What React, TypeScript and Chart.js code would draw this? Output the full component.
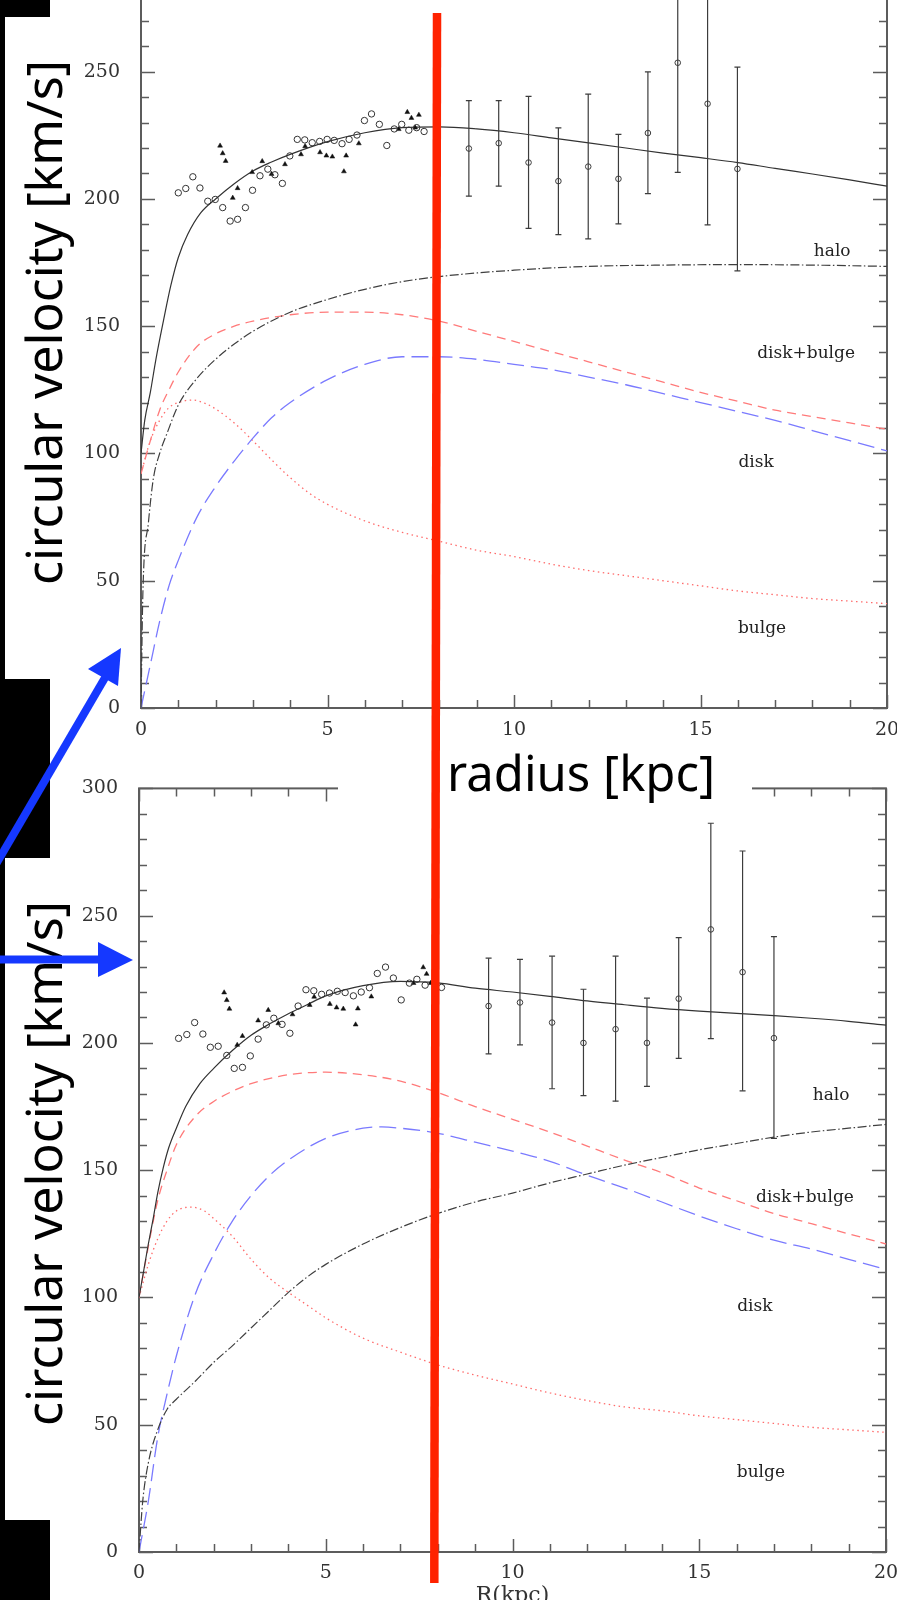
import React, { useEffect, useRef } from "react";
import { Chart, registerables } from "chart.js";

Chart.register(...registerables);
Chart.defaults.font.family = "'DejaVu Serif', serif";
Chart.defaults.font.size = 19;
Chart.defaults.color = "#333";

// ---------- Upper panel (A) model curves ----------
const A_TOTAL_R = [0, 0.1, 0.25, 0.4, 0.6, 0.8, 1, 1.25, 1.6, 2, 2.5, 3, 3.5, 4, 5, 6, 7, 8, 9, 10, 11, 12, 13, 14, 15, 16, 17, 18, 19, 20];
const A_TOTAL_V = [100, 113, 124, 137, 152, 166, 177, 186, 194.5, 200, 206, 211, 214.5, 217.5, 222.5, 226, 228, 228.3, 227.5, 226, 224, 222, 220, 218, 216.2, 214.3, 212, 209.8, 207.5, 205];

const A_HALO_R = [0, 0.05, 0.2, 0.33, 0.5, 0.7, 1, 1.5, 2, 2.5, 3, 4, 5, 6, 7, 8, 10, 12, 14, 16, 18, 20];
const A_HALO_V = [0, 45, 73, 90, 100, 108, 119, 129.5, 137, 143, 148, 155.5, 160.5, 164.5, 167.5, 169.5, 172, 173.5, 174, 174.2, 174, 173.5];

const A_DB_R = [0, 0.25, 0.5, 0.75, 1, 1.5, 2, 2.5, 3, 4, 5, 6, 7, 8, 9, 10, 11, 12, 13, 14, 15, 16, 17, 18, 19, 20];
const A_DB_V = [92, 105, 117, 125, 132, 142, 147, 150, 152, 154.5, 155.5, 155.5, 154.5, 152, 148, 144, 140, 136, 132, 128, 124, 120.5, 117, 114.5, 112, 109.5];

const A_DISK_R = [0, 0.25, 0.5, 0.75, 1, 1.5, 2, 2.5, 3, 3.5, 4, 5, 6, 7, 8, 9, 10, 11, 12, 13, 14, 15, 16, 17, 18, 19, 20];
const A_DISK_V = [0, 17, 34, 48, 58, 75, 87, 97, 106, 114, 120, 129, 135, 138, 138, 137, 135, 133, 130, 127, 123.5, 120, 116.5, 113, 109, 105, 101];

const A_BULGE_R = [0, 0.25, 0.5, 0.75, 1, 1.37, 1.75, 2, 2.5, 3, 3.5, 4, 4.5, 5, 6, 7, 8, 9, 10, 11, 12, 13, 14, 15, 16, 17, 18, 19, 20];
const A_BULGE_V = [92, 105, 113, 118, 120, 121, 119.5, 117.5, 112, 105, 97.5, 90.5, 84.5, 80, 73.5, 69, 65.5, 62, 59.5, 56.5, 54, 52, 50, 48, 46, 44.5, 43, 42, 41];

// ---------- Upper panel (A) observations ----------
const A_CIRC_R = [1.0, 1.2, 1.39, 1.58, 1.79, 1.99, 2.19, 2.39, 2.59, 2.8, 2.99, 3.19, 3.4, 3.59, 3.79, 3.99, 4.19, 4.39, 4.59, 4.79, 4.99, 5.18, 5.39, 5.58, 5.79, 5.99, 6.18, 6.39, 6.59, 6.79, 6.99, 7.18, 7.39, 7.59];
const A_CIRC_V = [202.4, 204.1, 208.7, 204.3, 199.1, 199.8, 196.6, 191.3, 192, 196.6, 203.4, 209.1, 211.7, 209.5, 206.1, 216.9, 223.4, 223.2, 222.1, 222.6, 223.4, 223, 221.7, 223.4, 225.1, 230.8, 233.4, 229.3, 221, 227.5, 229.3, 227, 228, 226.5];

const A_TRI_R = [2.12, 2.19, 2.27, 2.46, 2.59, 2.98, 3.25, 3.5, 3.86, 4.29, 4.4, 4.8, 4.97, 5.13, 5.44, 5.5, 5.84, 6.91, 7.14, 7.25, 7.45, 7.35];
const A_TRI_V = [220.9, 217.9, 214.9, 200.4, 204.2, 210.5, 214.8, 209.8, 213.6, 217.5, 220.7, 218.3, 217, 216.6, 210.8, 217, 221.8, 227.4, 234.1, 231.8, 233, 228];

const A_ERR_R = [8.79, 9.59, 10.39, 11.19, 11.99, 12.8, 13.59, 14.39, 15.19, 15.99];
const A_ERR_V = [219.8, 221.9, 214.3, 207, 212.7, 207.9, 225.9, 253.5, 237.4, 211.8];
const A_ERR_HI = [238.6, 238.6, 240.3, 227.9, 241.2, 225.4, 249.9, 296, 285, 251.8];
const A_ERR_LO = [201.1, 205, 188.4, 186, 184.3, 190.2, 202.1, 210.4, 189.8, 171.7];

// ---------- Lower panel (B) model curves ----------
const B_TOTAL_R = [0, 0.12, 0.25, 0.38, 0.5, 0.65, 0.8, 1, 1.25, 1.63, 2, 2.5, 3, 3.5, 4, 4.5, 5, 6, 7, 8, 9, 10, 11, 12, 13, 14, 15, 16, 17, 18, 19, 20];
const B_TOTAL_V = [100, 110, 121, 131, 141, 151, 159, 166.5, 175, 184, 190, 197, 203, 207.5, 211.5, 215, 218.5, 222.5, 224.2, 223.6, 221.5, 220, 218.3, 216.5, 215, 213.6, 212.5, 211.6, 210.7, 209.7, 208.5, 207];

const B_HALO_R = [0, 0.1, 0.25, 0.5, 0.75, 1, 1.5, 2, 2.5, 3, 3.5, 4, 4.5, 5, 6, 7, 8, 9, 10, 11, 12, 13, 14, 15, 16, 17, 18, 19, 20];
const B_HALO_V = [0, 20, 35, 48, 56, 60, 67, 74.5, 81, 88, 95, 102, 108, 113, 121, 127.5, 133, 137.5, 141, 145, 148.5, 152, 155, 158, 160.5, 163, 165, 166.5, 168];

const B_DB_R = [0, 0.25, 0.5, 0.75, 1, 1.5, 2, 2.5, 3, 4, 5, 6, 7, 8, 9, 10, 11, 12, 13, 14, 15, 16, 17, 18, 19, 20];
const B_DB_V = [100, 120, 138, 150, 160, 171, 177, 181, 184, 187.5, 188.5, 187.5, 185, 180.5, 175, 170, 165, 159.5, 154, 149, 143, 138, 133, 129, 125, 121];

const B_DISK_R = [0, 0.25, 0.5, 0.75, 1, 1.5, 2, 2.5, 3, 3.5, 4, 5, 6, 6.5, 7, 8, 9, 10, 11, 12, 13, 14, 15, 16, 17, 18, 19, 20];
const B_DISK_V = [0, 20, 45, 62, 77, 101, 117, 130, 140, 148, 154, 162.5, 166.5, 167, 166.5, 164.5, 161, 157.5, 153.5, 148, 143, 137.5, 132, 127, 122.5, 119, 115, 111];

const B_BULGE_R = [0, 0.25, 0.5, 0.75, 1, 1.4, 1.75, 2, 2.5, 3, 3.5, 4, 4.5, 5, 6, 7, 8, 9, 10, 11, 12, 13, 14, 15, 16, 17, 18, 19, 20];
const B_BULGE_V = [100, 113, 123, 130, 134, 135.5, 134, 131, 124, 115, 107.5, 102, 97, 92, 84, 78.5, 73.5, 69.5, 66, 62.5, 59.5, 57, 55.5, 53.5, 52, 50.5, 49, 48, 47];

// ---------- Lower panel (B) observations ----------
const B_CIRC_R = [1.06, 1.28, 1.49, 1.71, 1.91, 2.12, 2.35, 2.55, 2.77, 2.98, 3.19, 3.41, 3.61, 3.83, 4.04, 4.26, 4.47, 4.68, 4.89, 5.1, 5.31, 5.52, 5.74, 5.95, 6.17, 6.38, 6.6, 6.81, 7.02, 7.24, 7.44, 7.66, 8.1];
const B_CIRC_V = [201.8, 203.3, 208, 203.5, 198.3, 198.7, 195.1, 190, 190.4, 194.9, 201.5, 207.1, 209.7, 207.3, 203.8, 214.5, 220.9, 220.5, 219.1, 219.6, 220.3, 219.8, 218.5, 220, 221.7, 227.3, 229.8, 225.5, 216.9, 223.5, 225, 222.7, 221.8];

const B_TRI_R = [2.28, 2.35, 2.42, 2.63, 2.77, 3.19, 3.46, 3.73, 4.11, 4.57, 4.69, 5.11, 5.29, 5.47, 5.8, 5.86, 6.22, 7.35, 7.61, 7.7, 7.81];
const B_TRI_V = [219.8, 216.8, 213.4, 199.2, 202.7, 208.8, 212.9, 207.7, 211.2, 214.9, 218.1, 215.3, 213.9, 213.4, 207.2, 213.5, 218.2, 223.5, 229.7, 227.1, 223.5];

const B_ERR_R = [9.36, 10.2, 11.06, 11.9, 12.76, 13.6, 14.45, 15.31, 16.16, 17.0];
const B_ERR_V = [214.5, 215.9, 208, 200, 205.4, 200, 217.4, 244.6, 227.8, 201.9];
const B_ERR_HI = [233.3, 232.8, 234.1, 221.1, 234.1, 217.6, 241.4, 286.3, 275.4, 241.8];
const B_ERR_LO = [195.7, 199.2, 182, 179.3, 177.1, 182.9, 193.9, 201.7, 181.2, 162.5];

// ---------- Labels / ticks ----------
const LABEL_TEXT = ["halo", "disk+bulge", "disk", "bulge"];
const LABEL_R = [18.53, 17.83, 16.49, 16.65];
const LABEL_V = [177.6, 137.6, 94.8, 29.6];
const X_MAJOR = [0, 5, 10, 15, 20];
const Y_MAJOR = [0, 50, 100, 150, 200, 250, 300];

const pts = (r: number[], v: number[]) => r.map((x, i) => ({ x, y: v[i] }));
const errPts = (r: number[], lo: number[], hi: number[]) => {
  const out: any[] = [];
  r.forEach((x, i) => {
    out.push({ x, y: lo[i] }, { x, y: hi[i] }, { x, y: null });
  });
  return out;
};

const frameTicks = {
  id: "frameTicks",
  beforeDatasetsDraw(chart: any) {
    const { ctx, chartArea } = chart;
    const { left, right, top, bottom } = chartArea;
    const xs = chart.scales.x;
    const ys = chart.scales.y;
    ctx.save();
    ctx.strokeStyle = "#5c5c5c";
    ctx.lineWidth = 1.5;
    ctx.beginPath();
    xs.ticks.forEach((t: any) => {
      const px = Math.round(xs.getPixelForValue(t.value)) + 0.5;
      const len = X_MAJOR.includes(Math.round(t.value)) ? 13 : 8;
      ctx.moveTo(px, bottom);
      ctx.lineTo(px, bottom - len);
      ctx.moveTo(px, top);
      ctx.lineTo(px, top + len);
    });
    ys.ticks.forEach((t: any) => {
      const py = Math.round(ys.getPixelForValue(t.value)) + 0.5;
      const len = Y_MAJOR.includes(Math.round(t.value)) ? 14 : 8;
      ctx.moveTo(left, py);
      ctx.lineTo(left + len, py);
      ctx.moveTo(right, py);
      ctx.lineTo(right - len, py);
    });
    ctx.stroke();
    ctx.lineWidth = 2;
    ctx.strokeRect(left, top, right - left, bottom - top);
    ctx.restore();
  },
  afterDatasetsDraw(chart: any) {
    const { ctx } = chart;
    const xs = chart.scales.x;
    const ys = chart.scales.y;
    ctx.save();
    ctx.fillStyle = "#222";
    ctx.font = "17px 'DejaVu Serif'";
    ctx.textAlign = "center";
    ctx.textBaseline = "alphabetic";
    LABEL_TEXT.forEach((t, i) => {
      ctx.fillText(t, xs.getPixelForValue(LABEL_R[i]), ys.getPixelForValue(LABEL_V[i]));
    });
    ctx.restore();
  },
};

function buildConfig(
  total: any[], halo: any[], db: any[], disk: any[], bulge: any[],
  circ: any[], tri: any[], errBars: any[], errMid: any[],
  geom: { yW: number; xH: number; padR: number; xPad: number; title: string | null }
): any {
  const curve = (data: any[], color: string, dash: number[], w = 1.3) => ({
    type: "line",
    data,
    borderColor: color,
    borderWidth: w,
    borderDash: dash,
    pointRadius: 0,
    fill: false,
    cubicInterpolationMode: "monotone",
  });
  return {
    type: "scatter",
    data: {
      datasets: [
        {
          type: "line",
          data: errBars,
          borderColor: "#3c3c3c",
          borderWidth: 1.2,
          pointStyle: "line",
          pointRadius: 3,
          pointBorderWidth: 1.2,
          pointBorderColor: "#3c3c3c",
          spanGaps: false,
          tension: 0,
          fill: false,
        },
        {
          type: "scatter",
          data: errMid,
          pointStyle: "circle",
          pointRadius: 2.8,
          borderWidth: 1,
          borderColor: "#3c3c3c",
          backgroundColor: "rgba(255,255,255,0)",
        },
        {
          type: "scatter",
          data: circ,
          pointStyle: "circle",
          pointRadius: 3.2,
          borderWidth: 1,
          borderColor: "#333",
          backgroundColor: "rgba(255,255,255,0)",
        },
        {
          type: "scatter",
          data: tri,
          pointStyle: "triangle",
          pointRadius: 2.8,
          borderWidth: 0.5,
          borderColor: "#111",
          backgroundColor: "#111",
        },
        curve(total, "#333", [], 1.2),
        curve(halo, "#3f3f3f", [9, 2.5, 1.5, 2.5], 1.2),
        curve(db, "#ff7a7a", [9, 6]),
        curve(disk, "#7a7aff", [17, 7]),
        curve(bulge, "#ff6b6b", [1.5, 3.5]),
      ],
    },
    options: {
      responsive: false,
      animation: false,
      devicePixelRatio: 1,
      events: [],
      font: { family: "'DejaVu Serif', serif", size: 19 },
      layout: { padding: { top: 15, left: 0, right: geom.padR, bottom: 0 } },
      plugins: { legend: { display: false }, tooltip: { enabled: false } },
      scales: {
        x: {
          type: "linear",
          min: 0,
          max: 20,
          grid: { display: false },
          border: { display: false },
          ticks: {
            stepSize: 1,
            autoSkip: false,
            maxRotation: 0,
            padding: geom.xPad,
            color: "#333",
            font: { family: "'DejaVu Serif', serif", size: 19 },
            callback: (v: number) => (X_MAJOR.includes(Math.round(v * 1000) / 1000) ? String(v) : ""),
          },
          title: geom.title
            ? {
                display: true,
                text: geom.title,
                color: "#333",
                font: { family: "'DejaVu Serif', serif", size: 22 },
                padding: { top: 0, bottom: 7 },
              }
            : { display: false },
          afterFit: (s: any) => {
            s.height = geom.xH;
          },
        },
        y: {
          type: "linear",
          min: 0,
          max: 300,
          grid: { display: false },
          border: { display: false },
          ticks: {
            stepSize: 10,
            autoSkip: false,
            padding: 13,
            color: "#333",
            font: { family: "'DejaVu Serif', serif", size: 19 },
            callback: (v: number) => (Y_MAJOR.includes(Math.round(v)) ? String(v) : ""),
          },
          afterFit: (s: any) => {
            s.width = geom.yW;
          },
        },
      },
    },
    plugins: [frameTicks],
  };
}

export default function App() {
  const topRef = useRef<HTMLCanvasElement>(null);
  const botRef = useRef<HTMLCanvasElement>(null);

  useEffect(() => {
    const c1 = new Chart(
      topRef.current as HTMLCanvasElement,
      buildConfig(
        pts(A_TOTAL_R, A_TOTAL_V), pts(A_HALO_R, A_HALO_V), pts(A_DB_R, A_DB_V),
        pts(A_DISK_R, A_DISK_V), pts(A_BULGE_R, A_BULGE_V),
        pts(A_CIRC_R, A_CIRC_V), pts(A_TRI_R, A_TRI_V),
        errPts(A_ERR_R, A_ERR_LO, A_ERR_HI), pts(A_ERR_R, A_ERR_V),
        { yW: 141, xH: 42, padR: 73, xPad: 3, title: null }
      )
    );
    const c2 = new Chart(
      botRef.current as HTMLCanvasElement,
      buildConfig(
        pts(B_TOTAL_R, B_TOTAL_V), pts(B_HALO_R, B_HALO_V), pts(B_DB_R, B_DB_V),
        pts(B_DISK_R, B_DISK_V), pts(B_BULGE_R, B_BULGE_V),
        pts(B_CIRC_R, B_CIRC_V), pts(B_TRI_R, B_TRI_V),
        errPts(B_ERR_R, B_ERR_LO, B_ERR_HI), pts(B_ERR_R, B_ERR_V),
        { yW: 139, xH: 64, padR: 74, xPad: 2, title: "R(kpc)" }
      )
    );
    return () => {
      c1.destroy();
      c2.destroy();
    };
  }, []);

  const abs = (l: number, t: number, w: number, h: number, bg: string): React.CSSProperties => ({
    position: "absolute",
    left: l,
    top: t,
    width: w,
    height: h,
    background: bg,
  });

  return (
    <div style={{ position: "absolute", left: 0, top: 0, width: 897, height: 1600, overflow: "hidden", background: "#000" }}>
      <div style={abs(50, 0, 847, 1600, "#fff")} />
      <div style={abs(5, 17, 100, 662, "#fff")} />
      <div style={abs(5, 858, 100, 662, "#fff")} />
      <canvas
        ref={topRef}
        width={960}
        height={830}
        style={{ position: "absolute", left: 0, top: -80, width: 960, height: 830 }}
      />
      <canvas
        ref={botRef}
        width={960}
        height={852}
        style={{ position: "absolute", left: 0, top: 764, width: 960, height: 852 }}
      />
      <div style={abs(338, 738, 414, 69, "#fff")} />
      <svg width={897} height={1600} style={{ position: "absolute", left: 0, top: 0 }}>
        <text
          transform="translate(62,322.5) rotate(-90)"
          textAnchor="middle"
          fontFamily="'Noto Sans'"
          fontSize={50}
          fill="#000"
        >
          circular velocity [km/s]
        </text>
        <text
          transform="translate(62,1163.5) rotate(-90)"
          textAnchor="middle"
          fontFamily="'Noto Sans'"
          fontSize={50}
          fill="#000"
        >
          circular velocity [km/s]
        </text>
        <text x={447} y={791} fontFamily="'Noto Sans'" fontSize={49} fill="#000">
          radius [kpc]
        </text>
        <line x1={437} y1={13} x2={434.3} y2={1583} stroke="#ff2200" strokeWidth={8.5} />
        <line x1={-5} y1={866} x2={106} y2={676} stroke="#1538ff" strokeWidth={8} />
        <polygon points="121,648 88,669 118,686" fill="#1538ff" />
        <line x1={0} y1={959.5} x2={102} y2={959.5} stroke="#1538ff" strokeWidth={8} />
        <polygon points="133,960 98,942 98,977" fill="#1538ff" />
      </svg>
    </div>
  );
}
